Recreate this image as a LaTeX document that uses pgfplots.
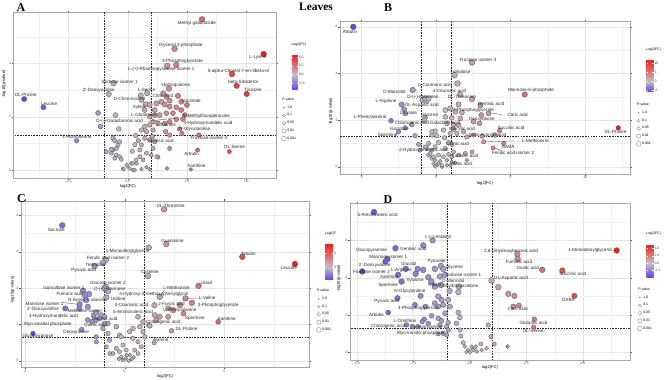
\documentclass[border=0pt]{standalone}
\usepackage{pgfplots}
\pgfplotsset{compat=1.18}
\usepackage{fontspec}
\setmainfont{Liberation Sans}
\newfontfamily\serifbold{Liberation Serif}
\newcommand\lblfont{\fontsize{4.6}{5}\selectfont}
\newcommand\tickfont{\fontsize{3.4}{4}\selectfont}
\newcommand\axfont{\fontsize{4.1}{4.6}\selectfont}
\newcommand\legfont{\fontsize{3.5}{4.1}\selectfont}

\tikzset{lab/.style={font=\lblfont, inner sep=0pt, text=black!85}}
\pgfplotsset{
  volcax/.style={
    scale only axis,
    axis line style={gray!70, line width=0.7pt},
    grid=both,
    major grid style={gray!22, line width=0.35pt},
    minor grid style={gray!11, line width=0.25pt},
    tick align=outside,
    major tick length=1.6bp,
    minor tick length=0pt,
    tick style={gray!70!black, line width=0.3pt},
    tick label style={font=\tickfont, text=gray!55!black},
    xticklabel style={inner sep=0.6bp},
    yticklabel style={inner sep=0.6bp},
    /pgf/number format/assume math mode=true,
    label style={font=\axfont, inner sep=0pt},
    xlabel={log2(FC)},
    ylabel={-log10(p-value)},
    clip mode=individual,
    legend cell align=left,
    legend image code/.code={\draw[##1] plot coordinates {(2.5bp,0bp)}; \path (0bp,0bp) (5bp,0bp);},
    legend style={draw=none, fill=none, font=\legfont, inner sep=0pt, row sep=2.4bp, anchor=north west, nodes={inner sep=0.7bp}},
  },
  volc/.style={
    only marks, scatter, mark=*, forget plot,
    point meta=x,
    scatter/use mapped color={draw=black!62, fill=mapped color},
    visualization depends on={y \as \yv},
    scatter/@pre marker code/.append style={/tikz/mark size={1.9+0.28*min(\yv,3.5)}, /tikz/line width=0.3pt},
  },
  thr/.style={forget plot, black!85, line width=0.5pt, dash pattern=on 1.6pt off 1.1pt},
  cbholder/.style={
    anchor=north east, hide axis, scale only axis, width=1bp, height=1bp,
    xmin=0, xmax=1, ymin=0, ymax=1, colorbar,
  },
  cbstyle/.style={
    at={(parent axis.north east)}, anchor=north west,
    scale only axis,
    yticklabel style={font=\legfont, text=black!75, inner sep=0.8bp},
    major tick length=1.2bp,
    tick style={white, line width=0.3pt},
    axis line style={draw=none},
    title={Log2(FC)},
    title style={font=\legfont, at={(0,1)}, anchor=south west, inner sep=0pt, yshift=2.2bp, xshift=-0.5bp},
  },
}
\newcommand\pvlegend{%
  \addlegendimage{empty legend}\addlegendentry{\hspace*{-5bp}P-value}%
  \addlegendimage{mark=*, only marks, mark size=0.45bp, black!60}\addlegendentry{1.0}%
  \addlegendimage{mark=o, only marks, mark size=1.5bp, black!55, line width=0.3pt}\addlegendentry{0.1}%
  \addlegendimage{mark=o, only marks, mark size=1.8bp, black!55, line width=0.3pt}\addlegendentry{0.05}%
  \addlegendimage{mark=o, only marks, mark size=2.1bp, black!55, line width=0.3pt}\addlegendentry{0.01}%
  \addlegendimage{mark=o, only marks, mark size=2.4bp, black!55, line width=0.3pt}\addlegendentry{0.001}%
}

\begin{document}
\begin{tikzpicture}
\useasboundingbox (0,0) rectangle (669bp,380bp);

% ================= Panel A =================
\begin{axis}[volcax,
  at={(13.3bp,202bp)}, anchor=south west,
  width=262.7bp, height=165.3bp,
  xmin=-4.83, xmax=6.26, ymin=-0.3, ymax=5.9,
  xtick={-2.5,0,2.5,5}, minor xtick={-3.75,-1.25,1.25,3.75},
  ytick={0,2,4}, minor ytick={1,3,5},
  xticklabel style={/pgf/number format/.cd, fixed, fixed zerofill, precision=1},
  xlabel style={at={(axis description cs:0.436,0)}, anchor=north, yshift=-6.7bp},
  ylabel style={at={(axis description cs:-0.027,0.569)}, anchor=south},
  colormap={cmA}{rgb255(0cm)=(105,60,240); rgb255(4.4cm)=(195,190,197); rgb255(10.15cm)=(245,25,25)},
  point meta min=-4.4, point meta max=5.75,
  legend style={at={(1.019,0.49)}},
]
\addplot[thr] coordinates {(-1,-1) (-1,10)};
\addplot[thr] coordinates {(1,-1) (1,10)};
\addplot[thr] coordinates {(-10,1.3) (10,1.3)};
\addplot[volc] table {
x y
3.14 5.65
1.98 4.55
5.74 4.35
2.05 3.94
1.67 3.90
4.40 3.60
4.60 3.16
5.02 2.85
-0.60 3.25
-0.80 2.85
-4.37 2.66
-3.56 2.35
1.74 3.05
1.50 2.87
0.55 2.80
2.50 2.44
0.76 2.47
2.33 1.91
2.29 1.37
3.00 1.31
4.29 0.69
2.95 0.75
2.67 0.02
-2.16 1.10
-1.25 2.14
-1.15 1.63
-0.52 2.06
-0.38 1.54
1.63 2.75
1.77 2.60
2.12 2.78
2.26 2.56
1.42 2.56
1.56 2.46
1.77 2.38
2.05 2.35
2.26 2.25
1.91 2.13
1.63 2.13
1.35 2.06
1.14 2.06
0.93 2.00
1.07 1.81
1.28 1.75
1.56 1.75
1.77 1.81
2.05 1.90
2.41 2.06
0.93 1.69
0.72 1.63
0.58 1.50
0.79 1.44
1.07 1.50
0.72 1.19
0.93 1.13
0.58 0.94
1.14 1.06
1.77 1.31
2.19 1.54
1.60 1.44
1.04 1.25
0.51 0.75
0.79 0.63
1.00 0.56
0.51 0.50
0.65 0.38
0.37 0.25
0.15 0.25
0.01 0.13
-0.20 0.05
0.22 0.00
0.58 0.03
0.79 0.10
0.93 0.03
1.28 0.48
1.07 0.81
1.77 0.81
0.58 2.63
0.72 2.25
0.93 2.44
0.82 2.88
1.14 2.25
1.21 2.50
-0.62 0.75
-0.69 0.63
-0.48 0.56
-0.55 0.44
-0.34 0.50
-0.41 0.94
-0.48 0.81
-0.34 1.06
-0.69 0.78
-0.27 0.40
-0.90 0.69
-0.05 0.19
0.08 0.06
-0.17 0.03
0.22 0.25
0.36 0.38
0.29 0.00
1.66 0.06
1.23 0.50
-0.62 1.20
-0.55 1.10
0.34 1.29
0.45 1.10
0.30 0.95
0.20 0.70
};
\pvlegend
\node[lab] at (axis cs:2.92,5.50) {Methyl galactoside};
\node[lab] at (axis cs:2.24,4.69) {Glycerol 3-phosphate};
\node[lab] at (axis cs:5.50,4.21) {L-Lysine};
\node[lab] at (axis cs:2.31,4.08) {3-Phosphoglycerate};
\node[lab] at (axis cs:1.42,3.77) {L-(+)-Rhamnopyranose isomer 1};
\node[lab] at (axis cs:4.67,3.72) {5-alpha-Cholest-7-en-3beta-ol};
\node[lab] at (axis cs:4.87,3.31) {beta-Sitosterol};
\node[lab] at (axis cs:5.29,3.00) {Tyrosine};
\node[lab] at (axis cs:-0.34,3.31) {Sorbose isomer 1};
\node[lab] at (axis cs:-1.22,3.00) {2'-Deoxyuridine};
\node[lab] at (axis cs:-4.30,2.81) {DL-Proline};
\node[lab] at (axis cs:-3.32,2.47) {Leucine};
\node[lab] at (axis cs:2.03,3.19) {Hydroquinone};
\node[lab] at (axis cs:0.79,3.02) {L-Serine};
\node[lab] at (axis cs:0.08,2.66) {D-Chiro-inositol};
\node[lab] at (axis cs:1.49,2.79) {Citric acid};
\node[lab] at (axis cs:2.69,2.60) {Isocitrate};
\node[lab] at (axis cs:0.48,2.36) {Xylitol};
\node[lab] at (axis cs:0.68,2.06) {L-Glutamine};
\node[lab] at (axis cs:3.32,2.01) {5'-Methylthioadenosine};
\node[lab] at (axis cs:-0.34,1.83) {D-(-)-Galacturonic acid};
\node[lab] at (axis cs:1.63,1.69) {L-Alanine};
\node[lab] at (axis cs:3.39,1.75) {4-Hydroxymandelic acid};
\node[lab] at (axis cs:2.83,1.53) {N-Glycylproline};
\node[lab] at (axis cs:3.43,1.19) {Fructose isomer 3};
\node[lab] at (axis cs:-2.14,1.25) {L-Homoserine};
\node[lab] at (axis cs:1.39,1.09) {Gentisic acid};
\node[lab] at (axis cs:2.70,0.60) {Arbutin};
\node[lab] at (axis cs:4.51,0.85) {DL-Serine};
\node[lab] at (axis cs:2.90,0.16) {Xanthine};
\draw[black!80, line width=0.3pt] (axis cs:0.85,1.83) -- (axis cs:2.05,1.95);
\end{axis}
\begin{axis}[cbholder, at={(283.3bp,325.7bp)},
  colormap={cmA}{rgb255(0cm)=(105,60,240); rgb255(4.4cm)=(195,190,197); rgb255(10.15cm)=(245,25,25)},
  point meta min=-4.4, point meta max=5.75,
  colorbar style={cbstyle, width=6bp, height=35.7bp, ytick={-2.5,0,2.5,5}, yticklabels={-2.5,0.0,2.5,5.0}}]
\end{axis}

% ================= Panel B =================
\begin{axis}[volcax,
  at={(340bp,206bp)}, anchor=south west,
  width=290bp, height=152.3bp,
  xmin=-6.42, xmax=13.0, ymin=-0.31, ymax=6.22,
  xtick={-5,0,5,10}, minor xtick={-2.5,2.5,7.5,12.5},
  ytick={0,2,4,6}, minor ytick={1,3,5},
  xlabel style={at={(axis description cs:0.5,0)}, anchor=north, yshift=-7.3bp},
  ylabel style={at={(axis description cs:-0.024,0.41)}, anchor=south},
  colormap={cmB}{rgb255(0cm)=(105,60,240); rgb255(5.6cm)=(195,190,197); rgb255(17.85cm)=(245,25,25)},
  point meta min=-5.6, point meta max=12.25,
  legend style={at={(1.02,0.471)}},
]
\addplot[thr] coordinates {(-1,-1) (-1,10)};
\addplot[thr] coordinates {(1,-1) (1,10)};
\addplot[thr] coordinates {(-10,1.3) (20,1.3)};
\addplot[volc] table {
x y
-5.53 6.00
2.42 4.47
1.25 3.93
1.45 3.57
-1.55 3.29
1.63 3.10
5.95 3.10
2.42 2.90
-0.90 2.86
-0.61 2.83
-2.29 2.67
-2.13 2.46
2.98 2.64
-2.06 2.29
3.53 2.29
3.04 2.22
2.93 1.86
-3.00 1.97
-0.72 2.11
-0.76 2.00
4.27 1.55
12.21 1.67
-2.06 1.67
-2.51 1.50
-1.39 1.33
3.20 1.07
4.54 1.00
3.83 0.81
-1.61 1.81
1.52 2.67
0.63 2.43
0.96 2.50
1.30 2.36
1.74 2.33
2.53 1.93
0.63 2.14
1.07 2.10
1.63 2.07
0.74 1.86
1.18 1.81
1.52 1.79
1.18 1.61
0.96 1.43
1.41 1.43
1.86 1.50
0.51 1.57
0.58 1.24
0.85 1.04
0.63 0.78
1.07 0.96
-0.05 1.53
0.07 1.33
-1.16 0.96
-0.49 1.00
-0.60 0.78
-0.27 0.71
-0.05 0.86
0.18 1.04
-0.49 0.50
-0.27 0.36
-0.16 0.14
0.07 0.07
0.40 0.00
0.74 0.07
1.07 0.21
0.29 0.24
0.51 0.43
0.85 0.53
1.18 0.64
1.52 0.50
1.97 0.57
2.42 0.64
2.08 0.28
0.18 0.50
-0.05 0.02
3.98 1.36
2.53 1.36
2.08 1.28
3.09 1.31
-0.72 2.93
-0.49 2.93
-0.27 1.50
-0.27 1.36
-0.72 0.85
-1.06 0.71
-0.05 0.28
0.17 0.14
0.40 0.07
0.73 0.28
1.07 0.43
1.29 0.17
0.96 0.07
-0.38 0.57
-0.16 0.43
};
\pvlegend
\node[lab] at (axis cs:-5.75,5.79) {Arbutin};
\node[lab] at (axis cs:2.82,4.57) {Fructose isomer 3};
\node[lab] at (axis cs:1.63,4.07) {Trehalose};
\node[lab] at (axis cs:-0.05,3.50) {p-Coumaric acid};
\node[lab] at (axis cs:-2.78,3.22) {D-Mannitol};
\node[lab] at (axis cs:0.91,3.26) {4-Coumaric acid};
\node[lab] at (axis cs:6.37,3.26) {Mannose-6-phosphate};
\node[lab] at (axis cs:-0.88,2.96) {D-(+)-Mannose};
\node[lab] at (axis cs:1.74,3.00) {DL-Threonine};
\node[lab] at (axis cs:-3.34,2.81) {L-Arginine};
\node[lab] at (axis cs:-0.94,2.64) {DL-Aspartic acid};
\node[lab] at (axis cs:3.69,2.71) {Gentisic acid};
\node[lab] at (axis cs:-1.84,2.31) {L-Lysine};
\node[lab] at (axis cs:2.52,2.43) {2-Phosphoglycerate};
\node[lab] at (axis cs:5.48,2.24) {Citric acid};
\node[lab] at (axis cs:-4.41,2.14) {L-Phenylalanine};
\node[lab] at (axis cs:-0.43,2.21) {Glycerol};
\node[lab] at (axis cs:3.08,2.03) {Deoxyribose};
\node[lab] at (axis cs:-1.61,1.88) {Chlorogenic acid};
\node[lab] at (axis cs:0.62,1.88) {Galactaric acid};
\node[lab] at (axis cs:-2.44,1.64) {Isocitrate};
\node[lab] at (axis cs:5.03,1.67) {Succinic acid};
\node[lab] at (axis cs:12.03,1.50) {DL-Proline};
\node[lab] at (axis cs:1.74,1.60) {Salicylic acid};
\node[lab] at (axis cs:-3.23,1.36) {Spermine};
\node[lab] at (axis cs:3.46,1.36) {trans-Aconitic acid};
\node[lab] at (axis cs:6.66,1.11) {L-Methionine};
\node[lab] at (axis cs:1.45,0.97) {Quinic acid};
\node[lab] at (axis cs:4.83,0.85) {GABA};
\node[lab] at (axis cs:-0.83,0.71) {2-Hydroxycinnamic acid};
\node[lab] at (axis cs:5.16,0.60) {Ferulic acid isomer 2};
\node[lab] at (axis cs:1.96,0.47) {Fumaric acid};
\node[lab] at (axis cs:1.74,0.11) {Malic acid};
\draw[black!80, line width=0.3pt] (axis cs:3.75,2.29) -- (axis cs:4.45,2.24);
\draw[black!80, line width=0.3pt] (axis cs:3.35,1.07) -- (axis cs:5.2,1.11);
\draw[black!80, line width=0.3pt] (axis cs:3.95,0.81) -- (axis cs:4.4,0.68);
\end{axis}
\begin{axis}[cbholder, at={(638bp,320.7bp)},
  colormap={cmB}{rgb255(0cm)=(105,60,240); rgb255(5.6cm)=(195,190,197); rgb255(17.85cm)=(245,25,25)},
  point meta min=-5.6, point meta max=12.25,
  colorbar style={cbstyle, width=7bp, height=32.4bp, ytick={-5,0,5,10}, yticklabels={-5,0,5,10}}]
\end{axis}

% ================= Panel C =================
\begin{scope}
\clip (0,0) rectangle (335bp,190bp);
\begin{axis}[volcax,
  at={(21bp,12.5bp)}, anchor=south west,
  width=288.3bp, height=166.5bp,
  xmin=-5.2, xmax=9.26, ymin=-0.37, ymax=8.79,
  xtick={-5,0,5}, minor xtick={-2.5,2.5,7.5},
  ytick={0,2,4,6,8}, minor ytick={1,3,5,7},
  xlabel style={at={(axis description cs:0.5,0)}, anchor=north, yshift=-7.2bp},
  ylabel style={at={(axis description cs:-0.022,0.465)}, anchor=south},
  colormap={cmC}{rgb255(0cm)=(105,60,240); rgb255(4.65cm)=(195,190,197); rgb255(13.25cm)=(245,25,25)},
  point meta min=-4.65, point meta max=8.6,
  legend style={at={(1.023,0.476)}},
]
\addplot[thr] coordinates {(-1,-1) (-1,10)};
\addplot[thr] coordinates {(1,-1) (1,10)};
\addplot[thr] coordinates {(-10,1.3) (20,1.3)};
\addplot[volc] table {
x y
1.98 8.33
-3.13 7.45
2.09 6.42
1.21 6.23
5.90 5.72
8.54 5.32
-0.95 5.54
-1.09 5.39
-1.51 5.21
1.17 4.67
-0.95 4.07
3.70 4.12
-2.09 3.85
-0.84 3.83
-1.79 3.67
1.76 3.52
3.05 3.43
-0.92 3.48
-2.26 3.11
3.37 3.19
1.49 3.06
-2.98 2.88
2.18 2.88
2.95 2.60
4.69 2.14
1.22 1.96
2.35 1.65
-4.60 1.50
1.48 0.99
-1.01 3.98
-2.00 3.61
-1.93 3.34
-1.85 2.97
-2.27 2.88
-1.56 2.51
-1.43 2.64
-1.18 2.51
-1.85 2.24
-1.63 2.15
-1.43 2.24
-1.26 2.33
-1.01 2.42
-2.15 1.72
-1.09 1.78
-0.84 2.05
-1.01 2.05
-0.84 1.50
-0.42 1.87
-0.76 1.14
-0.26 1.41
0.25 1.60
0.41 1.23
0.67 1.05
-0.09 0.86
0.08 0.59
-0.26 0.50
0.25 0.31
-0.17 0.22
0.05 0.13
-0.09 0.04
-0.42 0.68
-0.59 0.40
0.50 0.59
0.83 0.77
0.67 0.40
-1.43 1.32
-1.42 1.04
-0.75 0.40
-0.92 0.77
-0.17 1.32
0.42 1.78
0.67 2.42
0.76 1.87
0.92 2.14
1.51 2.51
1.59 2.23
1.76 2.42
1.26 1.92
2.43 2.79
2.18 2.42
2.77 3.06
0.92 1.59
1.01 1.32
0.20 0.00
0.35 0.10
-0.30 0.10
0.10 0.30
0.45 0.20
};
\pvlegend
\node[lab] at (axis cs:2.31,8.53) {DL-Threonine};
\node[lab] at (axis cs:-3.43,7.19) {Sucrose};
\node[lab] at (axis cs:2.40,6.60) {Guanosine};
\node[lab] at (axis cs:0.14,6.03) {1-Monooleoylglycerol};
\node[lab] at (axis cs:6.20,5.90) {Arbutin};
\node[lab] at (axis cs:8.24,5.11) {Leucine};
\node[lab] at (axis cs:-0.84,5.66) {Ferulic acid isomer 2};
\node[lab] at (axis cs:-1.47,5.30) {Trehalose};
\node[lab] at (axis cs:-2.06,4.95) {Pyruvic acid};
\node[lab] at (axis cs:1.26,4.84) {Cysteine};
\node[lab] at (axis cs:-0.84,4.31) {Glucose isomer 2};
\node[lab] at (axis cs:4.10,4.31) {Uracil};
\node[lab] at (axis cs:-3.05,4.01) {Isomaltose isomer 1};
\node[lab] at (axis cs:-0.75,3.92) {D-(+)-Mannose};
\node[lab] at (axis cs:2.60,4.01) {L-Methionine};
\node[lab] at (axis cs:-2.76,3.67) {Fumaric acid};
\node[lab] at (axis cs:1.46,3.67) {4-Hydroxy-3-methoxyphenylglycol};
\node[lab] at (axis cs:-1.89,3.34) {N-Acetyl-L-alanine};
\node[lab] at (axis cs:-0.33,3.43) {Uridine};
\node[lab] at (axis cs:4.14,3.46) {L-Valine};
\node[lab] at (axis cs:-4.02,3.15) {Mannose isomer 1};
\node[lab] at (axis cs:2.35,3.11) {2-Furoic acid};
\node[lab] at (axis cs:4.69,3.06) {3-Phosphoglycerate};
\node[lab] at (axis cs:-4.10,2.84) {2'-Deoxyuridine};
\node[lab] at (axis cs:-1.89,2.75) {Melibiose isomer 1};
\node[lab] at (axis cs:0.34,3.06) {4-Coumaric acid};
\node[lab] at (axis cs:0.42,2.67) {5-Aminovaleric acid};
\node[lab] at (axis cs:2.77,2.75) {L-Phenylalanine};
\node[lab] at (axis cs:-3.57,2.42) {4-Hydroxymandelic acid};
\node[lab] at (axis cs:-1.00,2.33) {Malonic acid};
\node[lab] at (axis cs:3.52,2.36) {Spermine};
\node[lab] at (axis cs:5.11,2.33) {Xanthine};
\node[lab] at (axis cs:-3.85,2.03) {Myo-inositol phosphate};
\node[lab] at (axis cs:-1.46,1.96) {Quinic acid};
\node[lab] at (axis cs:1.93,2.11) {Chlorogenic acid};
\node[lab] at (axis cs:-2.43,1.59) {Deoxyribose};
\node[lab] at (axis cs:3.10,1.77) {DL-Proline};
\node[lab] at (axis cs:-4.35,1.32) {Glucopyranose};
\node[lab] at (axis cs:1.81,1.13) {Alanine};
\draw[black!80, line width=0.3pt] (axis cs:3.15,3.43) -- (axis cs:3.7,3.46);
\draw[black!80, line width=0.3pt] (axis cs:-3.1,3.2) -- (axis cs:-2.35,3.11);
\draw[black!80, line width=0.3pt] (axis cs:1.8,3.6) -- (axis cs:2.0,3.9);
\end{axis}
\begin{axis}[cbholder, at={(316.7bp,136.7bp)},
  colormap={cmC}{rgb255(0cm)=(105,60,240); rgb255(4.65cm)=(195,190,197); rgb255(13.25cm)=(245,25,25)},
  point meta min=-4.65, point meta max=8.6,
  colorbar style={cbstyle, width=8bp, height=36.7bp, ytick={0,5}, yticklabels={0,5}}]
\end{axis}
\end{scope}

% ================= Panel D =================
\begin{axis}[volcax,
  at={(350bp,20bp)}, anchor=south west,
  width=280bp, height=156.7bp,
  xmin=-5.3, xmax=7.08, ymin=-0.41, ymax=8.0,
  xtick={-5,-2.5,0,2.5,5}, minor xtick={-3.75,-1.25,1.25,3.75,6.25},
  ytick={0,2,4,6}, minor ytick={1,3,5,7},
  xticklabel style={/pgf/number format/.cd, fixed, fixed zerofill, precision=1},
  xlabel style={at={(axis description cs:0.5,0)}, anchor=north, yshift=-5.3bp},
  ylabel style={at={(axis description cs:-0.032,0.52)}, anchor=south},
  colormap={cmD}{rgb255(0cm)=(105,60,240); rgb255(4.8cm)=(195,190,197); rgb255(11.3cm)=(245,25,25)},
  point meta min=-4.8, point meta max=6.5,
  legend style={at={(1.025,0.466)}},
]
\addplot[thr] coordinates {(-1,-1) (-1,10)};
\addplot[thr] coordinates {(1,-1) (1,10)};
\addplot[thr] coordinates {(-10,1.3) (20,1.3)};
\addplot[volc] table {
x y
-4.24 7.53
-1.65 6.01
-2.06 5.74
-3.29 5.59
6.49 5.47
2.10 5.27
2.11 5.02
-3.65 5.00
-3.73 4.88
-4.76 4.34
3.20 4.43
4.09 4.39
-2.84 4.48
-2.31 4.48
-2.06 4.43
-1.55 4.48
-1.28 4.64
-1.18 4.48
-3.17 4.16
-3.02 3.80
-2.40 4.21
-1.84 4.03
-1.32 4.07
-1.10 4.16
0.96 3.86
1.26 3.50
-0.48 3.53
-0.51 3.23
-2.18 3.03
1.70 3.14
1.97 3.03
4.62 3.03
-3.20 2.91
1.92 2.46
2.17 2.51
-3.61 2.14
2.85 1.78
2.82 1.35
0.81 1.47
0.93 0.84
1.08 0.45
1.67 0.31
0.74 0.22
0.49 0.45
0.52 0.13
-0.29 0.52
-0.22 0.31
-0.07 0.13
0.00 0.00
0.15 0.13
-0.15 0.02
0.08 0.31
-0.40 0.88
-0.44 1.20
-0.59 1.56
-2.43 2.55
-1.96 2.46
-1.55 2.64
-1.40 2.46
-1.18 2.55
-0.96 2.82
-0.88 2.46
-1.25 2.82
-1.40 3.00
-1.10 2.10
-0.51 2.14
-0.44 1.87
-2.02 1.78
-2.11 1.65
-1.84 1.56
-1.69 1.96
-1.40 1.83
-1.25 1.70
-1.32 1.47
-1.03 1.38
-0.96 1.60
-2.80 1.47
-2.55 1.38
-2.31 1.38
-0.96 1.20
-1.18 1.02
-1.40 0.99
-1.03 0.93
-1.28 3.62
-1.55 3.53
-1.70 3.80
-0.90 3.30
0.30 0.05
0.25 0.30
};
\pvlegend
\node[lab] at (axis cs:-4.08,7.39) {5-Aminovaleric acid};
\node[lab] at (axis cs:-1.40,6.17) {L-(-)-Arabitol};
\node[lab] at (axis cs:-4.35,5.47) {Glucopyranose};
\node[lab] at (axis cs:-2.50,5.54) {Gentisic acid};
\node[lab] at (axis cs:-3.61,5.15) {Mannose isomer 1};
\node[lab] at (axis cs:1.82,5.41) {2,6-Dihydroxybenzoic acid};
\node[lab] at (axis cs:5.31,5.47) {1-Monooleoylglycerol};
\node[lab] at (axis cs:-4.20,4.66) {2'-Deoxyuridine};
\node[lab] at (axis cs:2.17,4.84) {Fumaric acid};
\node[lab] at (axis cs:-2.70,4.75) {Glucitol};
\node[lab] at (axis cs:-1.47,4.88) {Pyruvate};
\node[lab] at (axis cs:-0.69,4.55) {Glycerol};
\node[lab] at (axis cs:2.56,4.52) {Oxalic acid};
\node[lab] at (axis cs:-4.35,4.34) {Fructose isomer 2};
\node[lab] at (axis cs:-3.02,4.39) {L-Arginine};
\node[lab] at (axis cs:-0.29,4.16) {Sorbose isomer 1};
\node[lab] at (axis cs:4.55,4.21) {Succinic acid};
\node[lab] at (axis cs:-3.57,4.03) {Xanthine};
\node[lab] at (axis cs:-2.43,3.89) {Xylulose};
\node[lab] at (axis cs:-0.73,3.86) {D-Mannitol};
\node[lab] at (axis cs:1.82,3.98) {DL-Aspartic acid};
\node[lab] at (axis cs:-1.55,3.62) {Ribitol};
\node[lab] at (axis cs:-3.61,3.62) {Spermine};
\node[lab] at (axis cs:-0.44,3.53) {Dihydroxyacetone};
\node[lab] at (axis cs:-2.65,3.26) {N-Glycylproline};
\node[lab] at (axis cs:-3.68,2.73) {Pyruvic acid};
\node[lab] at (axis cs:4.35,2.82) {GABA};
\node[lab] at (axis cs:-2.28,2.37) {3-Phosphoglycerate};
\node[lab] at (axis cs:2.11,2.33) {Citric acid};
\node[lab] at (axis cs:-4.13,2.01) {Arbutin};
\node[lab] at (axis cs:-2.87,1.71) {L-Ornithine};
\node[lab] at (axis cs:2.81,1.60) {Glutamic acid};
\node[lab] at (axis cs:-3.61,1.38) {Chlorogenic acid};
\node[lab] at (axis cs:-1.84,1.38) {L-Homoserine};
\node[lab] at (axis cs:2.81,1.15) {DL-Serine};
\node[lab] at (axis cs:-2.17,1.02) {Myo-inositol phosphate};
\end{axis}
\begin{axis}[cbholder, at={(638bp,136bp)},
  colormap={cmD}{rgb255(0cm)=(105,60,240); rgb255(4.8cm)=(195,190,197); rgb255(11.3cm)=(245,25,25)},
  point meta min=-4.8, point meta max=6.5,
  colorbar style={cbstyle, width=7bp, height=33.3bp, ytick={-2.5,0,2.5,5}, yticklabels={-2.5,0.0,2.5,5.0}}]
\end{axis}

% panel letters and title
\node[font=\serifbold\bfseries\fontsize{12}{13}\selectfont, inner sep=0pt] at (21bp,372bp) {A};
\node[font=\serifbold\bfseries\fontsize{12}{13}\selectfont, inner sep=0pt] at (388bp,372bp) {B};
\node[font=\serifbold\bfseries\fontsize{12}{13}\selectfont, inner sep=0pt] at (21.5bp,181bp) {C};
\node[font=\serifbold\bfseries\fontsize{12}{13}\selectfont, inner sep=0pt] at (388bp,180bp) {D};
\node[font=\serifbold\bfseries\fontsize{11.5}{12}\selectfont, inner sep=0pt] at (316bp,373bp) {Leaves};
\end{tikzpicture}
\end{document}
